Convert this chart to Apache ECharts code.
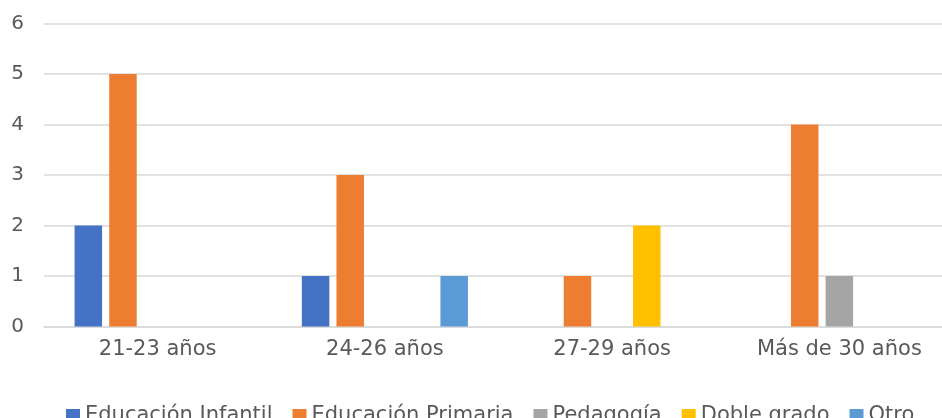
<!DOCTYPE html>
<html>
<head>
<meta charset="utf-8">
<script src="https://cdn.jsdelivr.net/npm/echarts@6/dist/echarts.min.js"></script>
<style>
  html, body { margin: 0; padding: 0; background: #ffffff; overflow: hidden; }
  /* the plot runs a little past the right edge of the page */
  #chart { width: 960px; height: 418px; }
</style>
</head>
<body>
<div id="chart"></div>
<script>
// Age ranges along the x axis
const categories = ['21-23 años', '24-26 años', '27-29 años', 'Más de 30 años'];

// Counts per degree, one value per age range
const educacionInfantil = [2, 1, 0, 0];
const educacionPrimaria = [5, 3, 1, 4];
const pedagogia = [0, 0, 0, 1];
const dobleGrado = [0, 0, 2, 0];
const otro = [0, 1, 0, 0];

const seriesNames = ['Educación Infantil', 'Educación Primaria', 'Pedagogía', 'Doble grado', 'Otro'];
const seriesValues = [educacionInfantil, educacionPrimaria, pedagogia, dobleGrado, otro];
const seriesColors = ['#4472C4', '#ED7D31', '#A5A5A5', '#FFC000', '#5B9BD5'];

const textColor = '#595959';
const fontFamily = 'DejaVu Sans, Liberation Sans, Arial, sans-serif';

const chart = echarts.init(document.getElementById('chart'), null, { renderer: 'canvas' });

chart.setOption({
  animation: false,
  backgroundColor: '#ffffff',
  grid: { left: 44, top: 23.5, width: 909, height: 303 },
  legend: {
    left: 66,
    top: 402,
    padding: 0,
    itemWidth: 14,
    itemHeight: 14,
    itemGap: 20,
    icon: 'rect',
    data: seriesNames,
    textStyle: {
      color: textColor,
      fontFamily: fontFamily,
      fontSize: 21,
      lineHeight: 22,
      padding: [0, 0, 6, 0]
    }
  },
  xAxis: {
    type: 'category',
    data: categories,
    axisTick: { show: false },
    axisLine: { show: true, lineStyle: { color: '#D9D9D9', width: 1.5 } },
    axisLabel: { color: textColor, fontFamily: fontFamily, fontSize: 21, margin: 13 }
  },
  yAxis: {
    type: 'value',
    min: 0,
    max: 6,
    interval: 1,
    axisLine: { show: false },
    axisTick: { show: false },
    splitLine: { lineStyle: { color: '#D9D9D9', width: 1.5 } },
    axisLabel: { color: textColor, fontFamily: fontFamily, fontSize: 20, margin: 20 }
  },
  series: seriesNames.map((name, i) => ({
    name: name,
    type: 'bar',
    data: seriesValues[i],
    barWidth: 27.5,
    barGap: '26%',
    itemStyle: { color: seriesColors[i] }
  }))
});
</script>
</body>
</html>
